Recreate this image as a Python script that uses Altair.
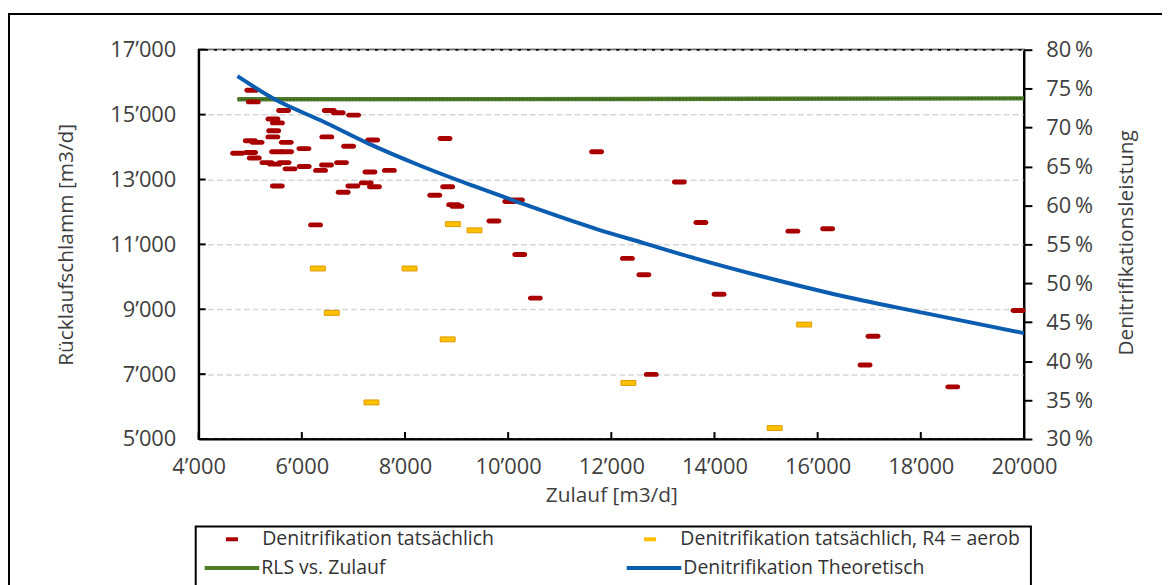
import altair as alt
import pandas as pd

FONT = "Open Sans"

# ---- data ----
# Denitrifikation tatsächlich: Zulauf [m3/d] / Denitrifikationsleistung [%]
red_x = [5030, 5059, 5646, 6532, 6705, 7004, 5440, 5527, 5454, 5438,
         5001, 5132, 5698, 6484, 7373, 8775, 4755, 5007, 5078, 5511,
         5704, 6041, 6907, 5323, 5473, 5656, 5771, 6045, 6362, 6478,
         6769, 7321, 7697, 5525, 6801, 6990, 7248, 7408, 8577, 8827,
         8943, 9006, 9724, 10032, 10180, 6266, 10225, 10527, 11715, 13319,
         13737, 15520, 16194, 12312, 12632, 14089, 12774, 17074, 16919, 18620,
         19885]
red_y = [74.8, 73.3, 72.2, 72.2, 71.9, 71.6, 71.1, 70.6, 69.6, 68.8,
         68.3, 68.1, 68.1, 68.8, 68.4, 68.6, 66.7, 66.8, 66.1, 66.9,
         66.9, 67.3, 67.6, 65.5, 65.3, 65.5, 64.7, 65.0, 64.5, 65.2,
         65.5, 64.3, 64.5, 62.5, 61.7, 62.5, 62.9, 62.4, 61.3, 62.4,
         60.1, 59.9, 58.0, 60.5, 60.7, 57.5, 53.7, 48.1, 66.9, 63.0,
         57.8, 56.7, 57.0, 53.2, 51.1, 48.6, 38.3, 43.2, 39.5, 36.7,
         46.5]

# Denitrifikation tatsächlich, R4 = aerob
orange_x = [8929, 9347, 6310, 8088, 6580, 8827, 7350, 15739, 12331, 15167]
orange_y = [57.6, 56.8, 51.9, 51.9, 46.2, 42.8, 34.7, 44.7, 37.2, 31.4]

# Denitrifikation Theoretisch
theo_x = [4751, 5540, 6374, 7273, 8299, 9328, 10161, 11701, 12664, 13627,
          14911, 16323, 18055, 20000]
theo_y = [76.6, 73.4, 70.9, 68.0, 65.1, 62.5, 60.5, 57.0, 55.1, 53.2,
          50.9, 48.6, 46.2, 43.6]

# RLS vs. Zulauf (Rücklaufschlamm [m3/d])
rls_x = [4751, 12500, 20000]
rls_y = [15470, 15480, 15500]

x_ticks = [4000, 6000, 8000, 10000, 12000, 14000, 16000, 18000, 20000]
left_ticks = [5000, 7000, 9000, 11000, 13000, 15000, 17000]
right_ticks = [30, 35, 40, 45, 50, 55, 60, 65, 70, 75, 80]

S_RED = "Denitrifikation tatsächlich"
S_ORA = "Denitrifikation tatsächlich, R4 = aerob"
S_RLS = "RLS vs. Zulauf"
S_THEO = "Denitrifikation Theoretisch"
point_names = [S_RED, S_ORA]
point_colors = ["#A80000", "#FFC000"]
line_names = [S_RLS, S_THEO]
line_colors = ["#4E7D2B", "#0B5DB0"]

df_red = pd.DataFrame({"x": red_x, "y": red_y, "series": S_RED})
df_ora = pd.DataFrame({"x": orange_x, "y": orange_y, "series": S_ORA})
df_theo = pd.DataFrame({"x": theo_x, "y": theo_y, "series": S_THEO})
df_rls = pd.DataFrame({"x": rls_x, "y": rls_y, "series": S_RLS})
df_xt = pd.DataFrame({"x": x_ticks})
df_lt = pd.DataFrame({"y": left_ticks})
df_one = pd.DataFrame({"a": [0]})

W, H = 831, 392

thousands = "replace(format(datum.value, ','), ',', '\u2019')"

x_scale = alt.Scale(domain=[4000, 20000], nice=False, zero=False)
yl_scale = alt.Scale(domain=[5000, 17000], nice=False, zero=False)
yr_scale = alt.Scale(domain=[30, 80], nice=False, zero=False)

x_axis = alt.Axis(values=x_ticks, labelExpr=thousands, title="Zulauf [m3/d]",
                  ticks=False, labelPadding=18, labelFlush=False, labelOverlap=False,
                  grid=False, titleX=W / 2, titleY=57, titleBaseline="middle",
                  domainColor="black", domainWidth=2)
yl_axis = alt.Axis(values=left_ticks, labelExpr=thousands, title="Rücklaufschlamm [m3/d]",
                   orient="left", ticks=False, labelPadding=23, grid=True,
                   gridDash=[6, 3], gridColor="#D6D6D6", gridWidth=1.5,
                   titleAngle=270, titleX=-133, titleY=H / 2, titleBaseline="middle",
                   domainColor="black", domainWidth=2)
yr_axis = alt.Axis(values=right_ticks, labelExpr="datum.value + '\u2009%'",
                   title="Denitrifikationsleistung", orient="right",
                   tickSize=8, tickWidth=2, tickColor="black", labelPadding=14,
                   grid=False, titleAngle=270, titleX=103, titleY=H / 2 - 2,
                   titleBaseline="middle", domainColor="black", domainWidth=2)


def X(field="x"):
    return alt.X(f"{field}:Q", scale=x_scale, axis=x_axis)


def YL(field="y"):
    return alt.Y(f"{field}:Q", scale=yl_scale, axis=yl_axis)


def YR(field="y"):
    return alt.Y(f"{field}:Q", scale=yr_scale, axis=yr_axis)


# legend symbols: small dash centred in a 55px wide box, or a 55px stroke
LEG_DASH = "M-0.22,-0.073H0.22V0.073H-0.22Z"
DASH = "M-1,-0.33H1V0.33H-1Z"
ROUND_DASH = "M-0.67,-0.33H0.67A0.33,0.33,0,0,1,0.67,0.33H-0.67A0.33,0.33,0,0,1,-0.67,-0.33Z"

LEG_FS = 19.6
point_legend = alt.Legend(
    title=None, orient="none", legendX=4, legendY=465, direction="horizontal",
    columnPadding=127, padding=0, symbolType=LEG_DASH, symbolSize=3025,
    symbolStrokeWidth=0, symbolOffset=2, labelOffset=3,
    labelFont=FONT, labelFontSize=LEG_FS, labelColor="#333333", labelLimit=600,
)
line_legend = alt.Legend(
    title=None, orient="none", legendX=4, legendY=492, direction="horizontal",
    columnPadding=234, padding=0, symbolType="stroke", symbolSize=3025,
    symbolStrokeWidth=4, symbolOffset=0, labelOffset=0,
    labelFont=FONT, labelFontSize=LEG_FS, labelColor="#333333", labelLimit=600,
)
fill_enc = alt.Fill("series:N", scale=alt.Scale(domain=point_names, range=point_colors),
                    legend=point_legend)
stroke_enc = alt.Stroke("series:N", scale=alt.Scale(domain=line_names, range=line_colors),
                        legend=line_legend)

# ---- left scale group ----
rls_line = alt.Chart(df_rls).mark_line(strokeWidth=4.5).encode(
    x=X(), y=YL(), stroke=stroke_enc,
)
rls_dots = alt.Chart(df_rls).mark_line(strokeWidth=1.2, strokeDash=[1.5, 2], color="#2C4A14").encode(
    x=X(), y=YL(),
)
left_tick_rules = alt.Chart(df_lt).mark_rule(color="black", strokeWidth=2).encode(
    y=YL(), x=alt.value(0), x2=alt.value(7),
)
bottom_tick_rules = alt.Chart(df_xt).mark_rule(color="black", strokeWidth=2).encode(
    x=X(), y=alt.value(H), y2=alt.value(H - 7),
)
frame = alt.Chart(df_one).mark_rect(fill="transparent", stroke="black", strokeWidth=2).encode(
    x=alt.value(-191), x2=alt.value(1100), y=alt.value(-36), y2=alt.value(800),
)
legend_box = alt.Chart(df_one).mark_rect(fill="transparent", stroke="black", strokeWidth=2).encode(
    x=alt.value(-3), x2=alt.value(838), y=alt.value(480), y2=alt.value(800),
)
left = alt.layer(rls_line, rls_dots, left_tick_rules, bottom_tick_rules, frame, legend_box)

# ---- right scale group ----
red = alt.Chart(df_red).mark_point(shape=ROUND_DASH, filled=True, size=225,
                                   strokeWidth=0, opacity=1).encode(
    x=X(), y=YR(), fill=fill_enc,
)
orange = alt.Chart(df_ora).mark_point(shape=DASH, filled=True, size=225,
                                      stroke="#DC9A00", strokeWidth=1, opacity=1).encode(
    x=X(), y=YR(), fill=fill_enc,
)
theo = alt.Chart(df_theo).mark_line(strokeWidth=4, interpolate="monotone").encode(
    x=X(), y=YR(), stroke=stroke_enc,
)
right = alt.layer(red, orange, theo)

chart = alt.layer(left, right).resolve_scale(y="independent").properties(
    width=W, height=H,
    padding={"left": 192, "top": 40, "right": 139, "bottom": 145},
    autosize=alt.AutoSizeParams(type="none"),
    background="white",
).configure_view(stroke="black", strokeWidth=2).configure_axis(
    labelFont=FONT, labelFontSize=22, labelColor="#404040",
    titleFont=FONT, titleFontSize=21, titleColor="#404040", titleFontWeight="normal",
)

chart.save("out.html", embed_options={"renderer": "svg", "actions": False})
